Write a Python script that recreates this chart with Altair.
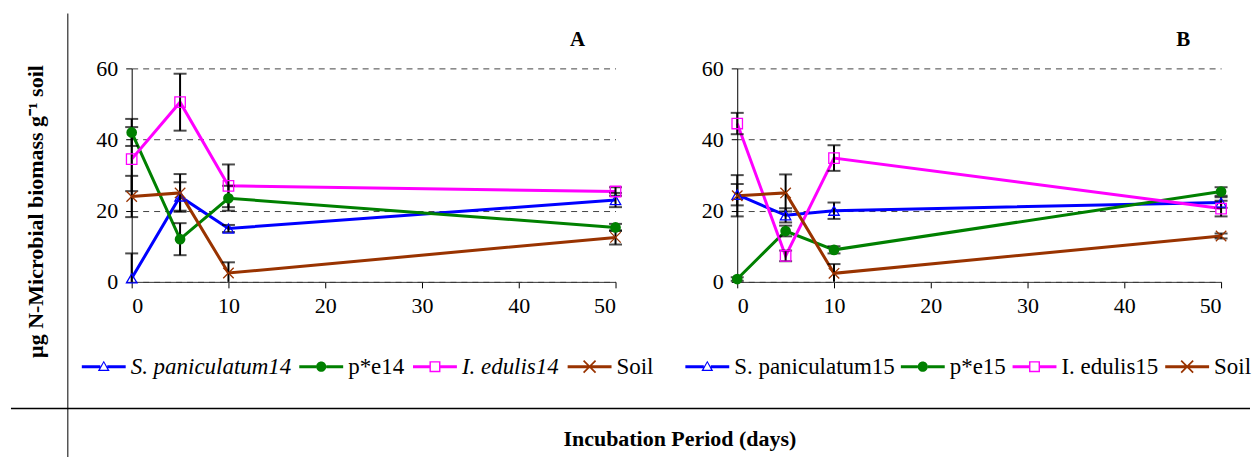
import altair as alt
import pandas as pd

# Sampling days after incubation start
days = [0, 5, 10, 50]

# Panel A series (means and standard errors)
names_a = ["S. paniculatum14", "p*e14", "I. edulis14", "Soil"]
s_pan14 = [1.0, 24.0, 15.0, 23.0]
s_pan14_err = [7.0, 4.0, 1.0, 2.0]
pe14 = [42.0, 12.0, 23.5, 15.3]
pe14_err = [3.8, 4.5, 3.5, 1.0]
i_ed14 = [34.5, 50.5, 27.0, 25.4]
i_ed14_err = [9.0, 8.0, 6.0, 1.2]
soil14 = [24.0, 25.0, 2.5, 12.5]
soil14_err = [5.8, 5.3, 3.0, 2.0]

# Panel B series
names_b = ["S. paniculatum15", "p*e15", "I. edulis15", "Soil"]
s_pan15 = [24.5, 18.7, 20.0, 22.3]
s_pan15_err = [3.0, 2.0, 2.3, 1.5]
pe15 = [0.8, 14.3, 9.0, 25.4]
pe15_err = [0.5, 1.5, 1.0, 1.2]
i_ed15 = [44.5, 7.3, 34.8, 20.6]
i_ed15_err = [3.0, 1.5, 3.6, 2.2]
soil15 = [24.2, 25.0, 2.4, 12.9]
soil15_err = [5.8, 5.2, 2.6, 0.7]

x_ticks = [0, 10, 20, 30, 40, 50]
y_ticks = [0, 20, 40, 60]

colors = ["#0000FF", "#008000", "#FF00FF", "#993300"]
marker_shapes = ["triangle-up", "circle", "square", "M-1,-1L1,1M-1,1L1,-1"]
marker_filled = [False, True, False, False]

# Legend glyphs: line segment plus marker, built as filled outlines
leg_tri = ("M-1,-0.07H-0.16V0.07H-1Z M0.16,-0.07H1V0.07H0.16Z "
           "M0,-0.27L0.27,0.2L-0.27,0.2Z M0,-0.18L-0.17,0.145L0.17,0.145Z")
leg_circ = ("M-1,-0.07H-0.23V0.07H-1Z M0.23,-0.07H1V0.07H0.23Z "
            "M0.23,0A0.23,0.23 0 1,1 -0.23,0A0.23,0.23 0 1,1 0.23,0Z")
leg_sq = ("M-1,-0.07H-0.25V0.07H-1Z M0.25,-0.07H1V0.07H0.25Z "
          "M-0.25,-0.25H0.25V0.25H-0.25Z M-0.185,-0.185V0.185H0.185V-0.185Z")
leg_x = ("M-1,-0.07H1V0.07H-1Z "
         "M-0.245,-0.3L0.3,0.245L0.245,0.3L-0.3,-0.245Z "
         "M0.245,-0.3L0.3,-0.245L-0.245,0.3L-0.3,0.245Z")
leg_paths = [leg_tri, leg_circ, leg_sq, leg_x]

FONT = "Liberation Serif"
W, H = 485, 214


def pick(names, values):
    expr = "'" + values[-1] + "'"
    for n, v in reversed(list(zip(names[:-1], values[:-1]))):
        expr = f"datum.value === '{n}' ? '{v}' : ({expr})"
    return expr


def make_frame(names, series, errs):
    rows = []
    for name, vals, err in zip(names, series, errs):
        for d, v, e in zip(days, vals, err):
            rows.append({"day": d, "value": v, "lo": v - e, "hi": v + e, "series": name})
    return pd.DataFrame(rows)


def panel(names, series, errs, tag, italic_names, first, leg_x0, col_pad):
    df = make_frame(names, series, errs)
    x_kw = dict(values=x_ticks, grid=False, format="d")
    if first:
        x_kw.update(title="Incubation Period (days)", titleX=549, titleY=157,
                    titleAlign="center", titleBaseline="middle", titleFont=FONT,
                    titleFontSize=22, titleFontWeight="bold", titleColor="black")
    else:
        x_kw.update(title=None)
    x = alt.X("day:Q", scale=alt.Scale(domain=[0, 50], nice=False), axis=alt.Axis(**x_kw))

    y_kw = dict(values=y_ticks, grid=True, gridDash=[6, 5], gridColor="#444",
                gridWidth=1, domainColor="black", format="d")
    if first:
        y_kw.update(title="µg N-Microbial biomass g⁻¹ soil", titleX=-96, titleY=143,
                    titleAngle=270, titleAlign="center", titleBaseline="middle",
                    titleFont=FONT, titleFontSize=22, titleFontWeight="bold",
                    titleColor="black")
    else:
        y_kw.update(title=None)
    y = alt.Y("value:Q", scale=alt.Scale(domain=[0, 60], nice=False), axis=alt.Axis(**y_kw))

    if italic_names:
        label_style = alt.ExprRef(
            expr="indexof(" + str(italic_names) + ", datum.value) >= 0 ? 'italic' : 'normal'")
    else:
        label_style = "normal"

    legend = alt.Legend(
        title=None, orient="none", legendX=leg_x0, legendY=277, direction="horizontal",
        columns=4, symbolSize=1936, labelFont=FONT, labelFontSize=23, labelColor="black",
        labelOffset=5, columnPadding=col_pad, padding=0, labelLimit=400,
        labelFontStyle=label_style,
        symbolType=alt.ExprRef(expr=pick(names, leg_paths)),
        symbolFillColor=alt.ExprRef(expr=pick(names, colors)),
        symbolStrokeColor="transparent",
        symbolStrokeWidth=0,
        symbolOpacity=1,
    )

    base = alt.Chart(df)
    lines = base.mark_line(strokeWidth=3).encode(
        x=x, y=y,
        color=alt.Color("series:N", scale=alt.Scale(domain=names, range=colors), legend=legend),
        order="day:Q",
    )
    err_rule = base.transform_calculate(lo_c="max(datum.lo, 0)").mark_rule(
        color="black", strokeWidth=2).encode(x=x, y="lo_c:Q", y2="hi:Q")
    cap_hi = base.mark_tick(orient="horizontal", size=13, thickness=2, color="black").encode(
        x=x, y="hi:Q")
    cap_lo = base.transform_filter("datum.lo >= 0").mark_tick(
        orient="horizontal", size=13, thickness=2, color="black").encode(x=x, y="lo:Q")

    layers = [lines, err_rule, cap_hi, cap_lo]
    # One marker layer per series so each keeps its own glyph
    for name, col, shp, fld in zip(names, colors, marker_shapes, marker_filled):
        layers.append(
            base.transform_filter(alt.datum.series == name).mark_point(
                shape=shp, color=col, filled=fld, size=115 if fld else 110,
                strokeWidth=1.3, opacity=1).encode(x=x, y=y))

    one = pd.DataFrame({"k": [0]})
    layers.append(alt.Chart(one).mark_text(
        font=FONT, fontSize=21, fontWeight="bold", color="black",
        align="center", baseline="middle").encode(
        x=alt.value(447), y=alt.value(-28), text=alt.value(tag)))
    if first:
        layers.append(alt.Chart(one).mark_rule(color="black", strokeWidth=1).encode(
            x=alt.value(-64), y=alt.value(-55), y2=alt.value(390)))
        layers.append(alt.Chart(one).mark_rule(color="black", strokeWidth=1.5).encode(
            x=alt.value(-121), x2=alt.value(1121), y=alt.value(341)))
    return alt.layer(*layers).properties(width=W, height=H)


pa = panel(names_a, [s_pan14, pe14, i_ed14, soil14],
           [s_pan14_err, pe14_err, i_ed14_err, soil14_err], "A",
           ["S. paniculatum14", "I. edulis14"], True, -50, 8)
pb = panel(names_b, [s_pan15, pe15, i_ed15, soil15],
           [s_pan15_err, pe15_err, i_ed15_err, soil15_err], "B", [], False, -52, 6)

chart = alt.hconcat(pa, pb, spacing=122, bounds="flush").resolve_scale(
    color="independent"
).resolve_legend(color="independent").properties(
    padding={"left": 10, "top": 12, "right": 0, "bottom": 0}
).configure_view(stroke=None).configure_axis(
    labelFont=FONT, labelFontSize=22, labelColor="black", tickColor="black",
    tickSize=6, domainColor="#333", labelPadding=8
)

chart.save("out.html", embed_options={"renderer": "svg", "actions": False})
